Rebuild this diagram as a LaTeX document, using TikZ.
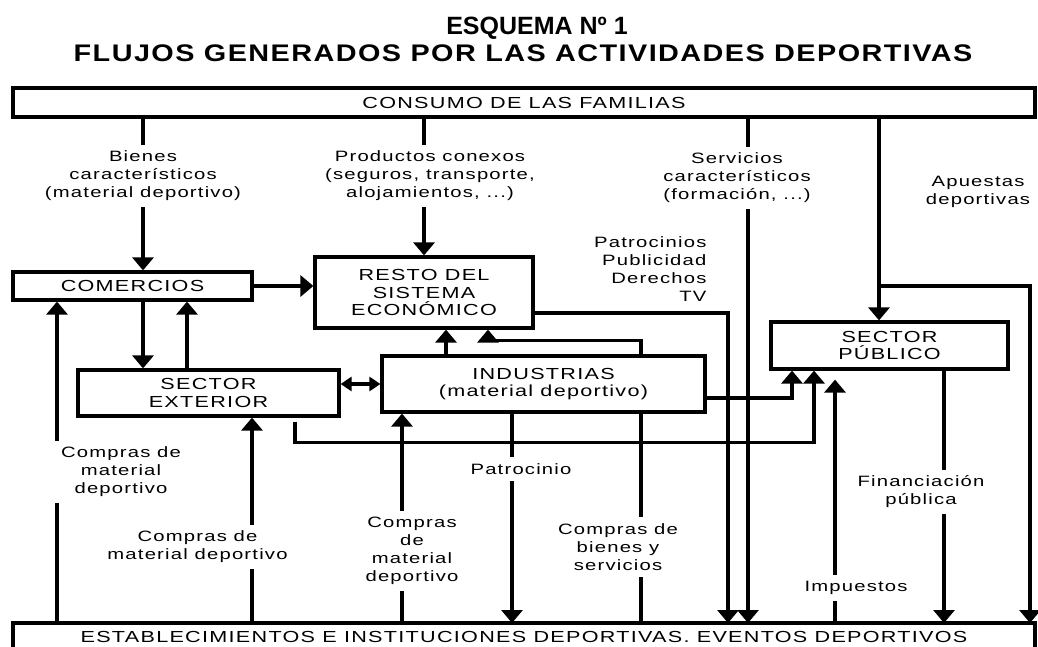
\documentclass[tikz,border=0pt]{standalone}
\usepackage{fontspec}
\setmainfont{Liberation Sans}[FakeStretch=1.35,LetterSpace=8]
\newfontfamily\titlefont{Liberation Sans}[FakeStretch=1.2,LetterSpace=6]
\newfontfamily\esqfont{Liberation Sans}
\usepackage{tikz}
\usetikzlibrary{arrows.meta}

\begin{document}
\begin{tikzpicture}[
    x=1pt, y=-1pt, line width=3.2pt,
    box/.style={rectangle, draw, line width=3.2pt, align=center, inner sep=0pt, font=\fontsize{16}{17.5}\selectfont},
    lbl/.style={align=center, fill=white, inner sep=6pt, font=\fontsize{15}{18}\selectfont},
    arrow/.style={-{Triangle[length=13pt,width=21pt]}},
    darrow/.style={{Triangle[length=11pt,width=14pt]}-{Triangle[length=11pt,width=14pt]}}
]
\clip (0,0) rectangle (1038,647);
% titles
\node[font={\esqfont\bfseries\fontsize{25}{30}\selectfont}] (esquema) at (537,28) {ESQUEMA Nº 1};
\node[font={\titlefont\bfseries\fontsize{24}{28}\selectfont}] (flujos) at (523,53) {FLUJOS GENERADOS POR LAS ACTIVIDADES DEPORTIVAS};

% boxes
\node[box, minimum width=1022pt, minimum height=29pt] (consumo) at (524,102.5) {CONSUMO DE LAS FAMILIAS};
\node[box, minimum width=239pt, minimum height=28pt] (comercios) at (132.5,286) {COMERCIOS};
\node[box, minimum width=218pt, minimum height=71pt] (resto) at (424,292.5) {RESTO DEL\\SISTEMA\\ECONÓMICO};
\node[box, minimum width=261pt, minimum height=46pt] (exterior) at (208.5,393) {SECTOR\\EXTERIOR};
\node[box, minimum width=323pt, minimum height=56pt] (industrias) at (543.5,384) {INDUSTRIAS\\(material deportivo)};
\node[box, minimum width=237pt, minimum height=47pt] (publico) at (889.5,345.5) {SECTOR\\PÚBLICO};
\node[box, minimum width=1022pt, minimum height=28pt] (estab) at (524,637) {ESTABLECIMIENTOS E INSTITUCIONES DEPORTIVAS. EVENTOS DEPORTIVOS};

% line ends on the two long boxes
\foreach \n/\x in {t1/143,t2/424,t3/748,t4/879}
    \coordinate (\n) at (\x,117);
\foreach \n/\x in {b1/57,b2/252,b3/402,b4/512,b5/641,b6/728,b7/748,b8/835,b9/944,b10/1030}
    \coordinate (\n) at (\x,623);
\coordinate (r1) at ([xshift=22pt]resto.south);
\coordinate (r2) at ([xshift=64pt]resto.south);
\coordinate (e1) at ([xshift=-21.5pt]exterior.north);

% flows from consumo
\draw[arrow] (t1) -- (t1 |- comercios.north);
\draw[arrow] (t2) -- (resto.north);
\draw[arrow] (t3) -- (b7);
\draw[arrow] (t4) -- (t4 |- publico.north);
\draw[arrow] (t4 |- comercios.east) -| (b10);

\draw[arrow] (comercios.east) -- (comercios.east -| resto.west);
\draw[arrow] (t1 |- comercios.south) -- (t1 |- exterior.north);
\draw[arrow] (e1) -- (e1 |- comercios.south);
\draw[darrow] (industrias.west -| exterior.east) -- (industrias.west);

\draw[arrow] (r1 |- industrias.north) -- (r1);
\draw[arrow] ([xshift=97.5pt]industrias.north) -- ++(0,-14) -| (r2);
\draw[arrow] ([yshift=-20.5pt]resto.east) -| (b6);
\draw[arrow] ([yshift=-14pt]industrias.east) -| ([xshift=-97.5pt]publico.south);
\draw[arrow] ([xshift=86.5pt,yshift=-4pt]exterior.south) -- ++(0,21) -| ([xshift=-75.5pt]publico.south);

% flows from/to establecimientos
\draw[arrow] (b1) -- (b1 |- comercios.south);
\draw[arrow] (b2) -- (b2 |- exterior.south);
\draw[arrow] (b3) -- (b3 |- industrias.south);
\draw[arrow] ([xshift=-31.5pt]industrias.south) -- (b4);
\draw ([xshift=97.5pt]industrias.south) -- (b5);
\draw[arrow, shorten >=9pt] (b8) -- (b8 |- publico.south);
\draw[arrow] ([xshift=54.5pt]publico.south) -- (b9);

% labels
\node[lbl] (lbienes) at (143,176) {Bienes\\característicos\\(material deportivo)};
\node[lbl] (lproductos) at (430,176) {Productos conexos\\(seguros, transporte,\\alojamientos, ...)};
\node[lbl] (lservicios) at (737,178) {Servicios\\característicos\\(formación, ...)};
\node[lbl] (lapuestas) at (978,192) {Apuestas\\deportivas};
\node[lbl, align=right, anchor=east] (lpatroc) at (714,269) {Patrocinios\\Publicidad\\Derechos\\TV};
\node[lbl] (lcompras1) at (121,472) {Compras de\\material\\deportivo};
\node[lbl] (lcompras2) at (197.5,547) {Compras de\\material deportivo};
\node[lbl] (lcompras3) at (412,551) {Compras\\de\\material\\deportivo};
\node[lbl] (lpatrocinio) at (521,469) {Patrocinio};
\node[lbl] (lbys) at (618,547) {Compras de\\bienes y\\servicios};
\node[lbl] (limpuestos) at (856,588) {Impuestos};
\node[lbl] (lfinanc) at (921,492) {Financiación\\pública};
\end{tikzpicture}
\end{document}
